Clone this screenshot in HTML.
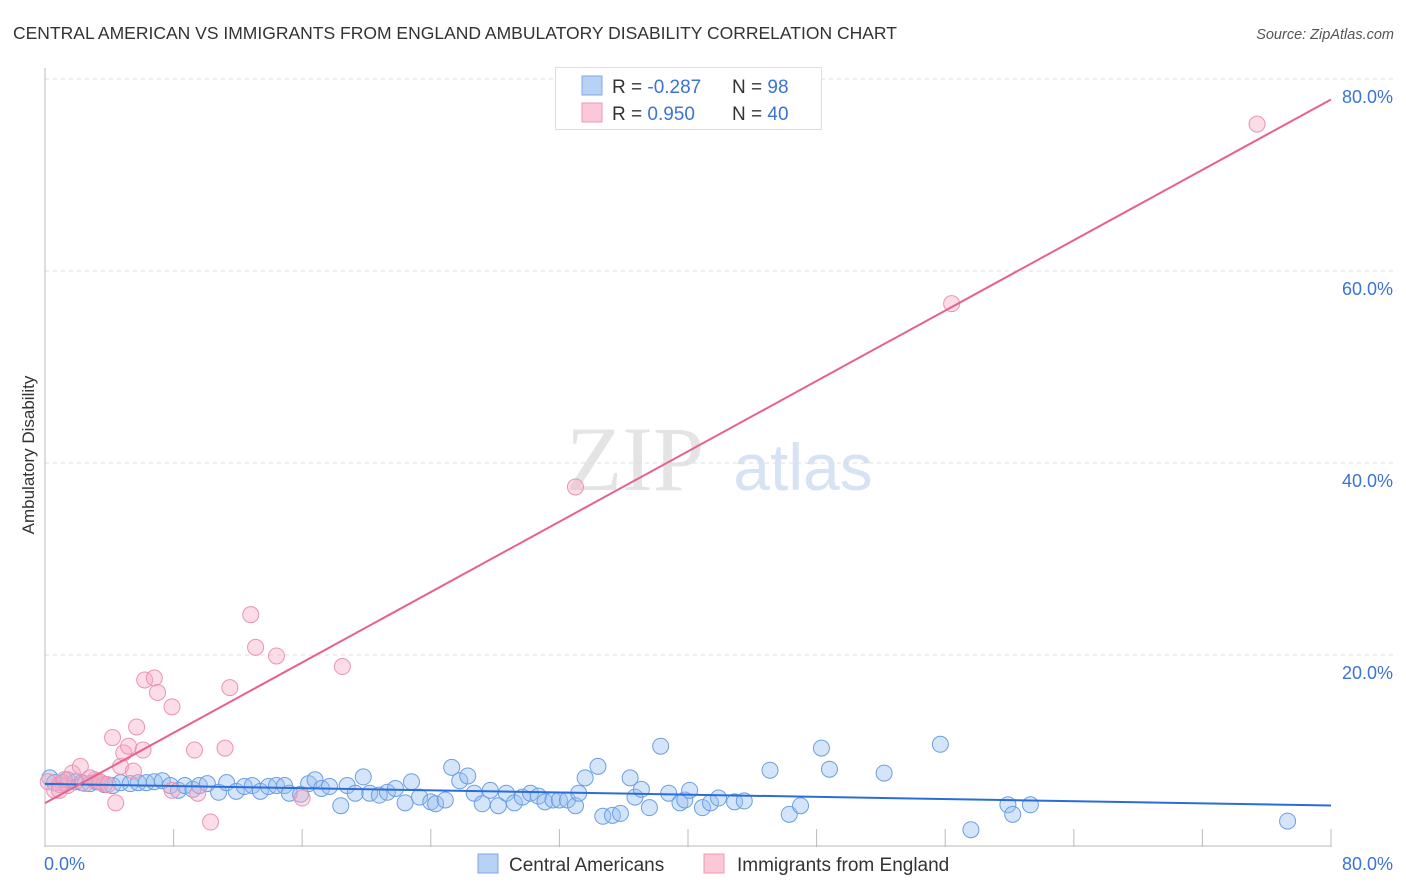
<!DOCTYPE html>
<html><head><meta charset="utf-8"><style>
body{margin:0;background:#fff;font-family:"Liberation Sans",sans-serif;}
svg{display:block}
</style></head><body>
<svg id="chart" width="1406" height="892" viewBox="0 0 1406 892">
<text x="13" y="39" font-size="17.5" fill="#333">CENTRAL AMERICAN VS IMMIGRANTS FROM ENGLAND AMBULATORY DISABILITY CORRELATION CHART</text>
<text x="1394" y="39" font-size="14.5" fill="#555" font-style="italic" text-anchor="end">Source: ZipAtlas.com</text>
<text x="34" y="455" font-size="17" fill="#333" text-anchor="middle" transform="rotate(-90 34 455)">Ambulatory Disability</text>
<g>
<text x="635" y="490" font-size="92" fill="#e4e4e4" font-family="Liberation Serif,serif" text-anchor="middle">ZIP</text>
<text x="803" y="490" font-size="66" fill="#d6e3f5" text-anchor="middle">atlas</text>
</g>
<g id="grid"></g>
<g id="axes"></g>
<g id="pts"></g>
<g id="lines"></g>
<g>
<rect x="555.5" y="67.5" width="266" height="62" fill="#fff" stroke="#ddd"/>
<rect x="582" y="76" width="20" height="19" fill="#b8d2f5" stroke="#7fa8e3"/>
<rect x="582" y="103" width="20" height="19" fill="#fac8d7" stroke="#ee9ab6"/>
<text x="612" y="93" font-size="19" fill="#333">R = <tspan fill="#3b73d6">-0.287</tspan></text>
<text x="732" y="93" font-size="19" fill="#333">N = <tspan fill="#3b73d6"> 98</tspan></text>
<text x="612" y="120" font-size="19" fill="#333">R = <tspan fill="#3b73d6"> 0.950</tspan></text>
<text x="732" y="120" font-size="19" fill="#333">N = <tspan fill="#3b73d6">40</tspan></text>
</g>
<g>
<rect x="478" y="854" width="20" height="19" fill="#b8d2f5" stroke="#7fa8e3"/>
<text x="509" y="871" font-size="19" fill="#333">Central Americans</text>
<rect x="704" y="854" width="20" height="19" fill="#fac8d7" stroke="#ee9ab6"/>
<text x="737" y="871" font-size="19" fill="#333">Immigrants from England</text>
</g>
</svg>
<script>
const yTicks=[20,40,60,80];
const yTickLabels=["20.0%","40.0%","60.0%","80.0%"];
const xTickLabels=["0.0%","80.0%"];
const blueX=[0.3,0.6,1.1,1.4,1.9,2.3,2.8,3.2,3.7,4.2,4.7,5.3,5.8,6.3,6.8,7.3,7.8,8.3,8.7,9.2,9.6,10.1,10.8,11.3,11.9,12.4,12.9,13.4,13.9,14.4,14.9,15.2,15.9,16.4,16.8,17.2,17.7,18.4,18.8,19.3,19.8,20.2,20.8,21.3,21.8,22.4,22.8,23.3,24.0,24.3,24.9,25.3,25.8,26.3,26.7,27.2,27.7,28.2,28.7,29.2,29.7,30.2,30.7,31.1,31.6,32.0,32.5,33.0,33.2,33.6,34.4,34.7,35.3,35.8,36.4,36.7,37.1,37.6,38.3,38.8,39.5,39.8,40.1,40.9,41.4,41.9,42.9,43.5,45.1,46.3,47.0,48.3,48.8,52.2,55.7,57.6,59.9,60.2,61.3,77.3];
const blueY=[7.2,6.7,6.7,7.0,6.8,6.7,6.6,6.8,6.5,6.4,6.7,6.6,6.7,6.7,6.8,6.9,6.4,5.9,6.4,6.0,6.4,6.6,5.7,6.7,5.8,6.3,6.4,5.8,6.3,6.4,6.4,5.6,5.5,6.6,7.0,6.1,6.3,4.3,6.4,5.6,7.3,5.6,5.4,5.7,6.1,4.6,6.8,5.2,4.7,4.5,4.9,8.3,6.9,7.4,5.6,4.5,5.9,4.3,5.6,4.6,5.2,5.6,5.3,4.7,4.9,4.9,4.9,4.3,5.6,7.2,8.4,3.2,3.3,3.5,7.2,5.2,6.0,4.1,10.5,5.6,4.6,4.9,5.9,4.1,4.6,5.1,4.7,4.8,8.0,3.4,4.3,10.3,8.1,7.7,10.7,1.8,4.4,3.4,4.4,2.7];
const pinkX=[0.2,0.6,0.9,1.4,1.7,2.2,2.5,3.1,3.5,4.2,4.4,4.7,4.9,5.2,5.5,5.7,6.1,6.2,6.8,7.0,7.9,7.9,9.3,9.5,10.3,11.2,11.5,12.8,13.1,14.4,16.0,18.5,33.0,56.4,75.4,1.2,2.8,3.4,0.9,3.9];
const pinkY=[6.8,5.9,6.5,6.4,7.7,8.4,6.6,7.0,6.7,11.4,4.6,8.4,9.8,10.5,7.9,12.5,10.1,17.4,17.6,16.1,14.6,5.9,10.1,5.6,2.6,10.3,16.6,24.2,20.8,19.9,5.1,18.8,37.5,56.6,75.3,7.0,7.2,6.8,5.9,6.5];
const X0=45,X1=1331,Y0=847,Y80=79;
const sx=v=>X0+v/80*(X1-X0);
const sy=v=>Y0-v/80*(Y0-Y80);
const NS="http://www.w3.org/2000/svg";
function mk(tag,attrs,parent){const e=document.createElementNS(NS,tag);for(const k in attrs)e.setAttribute(k,attrs[k]);document.getElementById(parent).appendChild(e);return e;}
yTicks.forEach((t,i)=>{
 const l=mk('line',{x1:X0,x2:1395,y1:sy(t),y2:sy(t),stroke:'#ddd','stroke-dasharray':'4 4'},'grid');
 
 
 const tx=mk('text',{x:1393,y:sy(t)+24,'font-size':18,fill:'#3b73d6','text-anchor':'end'},'grid');
 tx.textContent=yTickLabels[i];
 
 
});
let a=mk('line',{x1:X0,x2:X0,y1:68,y2:Y0,stroke:'#bbb'},'axes');


a=mk('line',{x1:X0,x2:X1,y1:Y0-1,y2:Y0-1,stroke:'#bbb'},'axes');


for(let i=1;i<=10;i++){
 const t=mk('line',{x1:sx(i*8),x2:sx(i*8),y1:Y0-18,y2:Y0,stroke:'#bbb'},'axes');
 
 
}
let xl=mk('text',{x:44,y:870,'font-size':18,fill:'#3b73d6'},'axes');xl.textContent=xTickLabels[0];


xl=mk('text',{x:1393,y:870,'font-size':18,fill:'#3b73d6','text-anchor':'end'},'axes');xl.textContent=xTickLabels[1];


function pts(xs,ys,fill,stroke,name){
 xs.forEach((x,i)=>{const c=mk('circle',{cx:sx(x),cy:sy(ys[i]),r:8,fill:fill,stroke:stroke,'stroke-width':1},'pts');
 
 });
}
pts(blueX,blueY,'rgba(150,190,240,0.4)','#6b9ee2','central-american-point');
pts(pinkX,pinkY,'rgba(248,170,195,0.4)','#ea93b3','england-immigrant-point');
function fit(xs,ys){const n=xs.length;let mx=0,my=0;xs.forEach((x,i)=>{mx+=x;my+=ys[i];});mx/=n;my/=n;let sxy=0,sxx=0;xs.forEach((x,i)=>{sxy+=(x-mx)*(ys[i]-my);sxx+=(x-mx)*(x-mx);});const b=sxy/sxx;return [my-b*mx,b];}
function line(xs,ys,col,name,x2){const [a0,b]=fit(xs,ys);const l=mk('line',{x1:sx(0),y1:sy(a0),x2:sx(x2),y2:sy(a0+b*x2),stroke:col,'stroke-width':2},'lines');
 
 }
line(blueX,blueY,'#2a6dd9','central-american-trendline',80);
line(pinkX,pinkY,'#e8618c','england-trendline',80);
</script>
</body></html>
